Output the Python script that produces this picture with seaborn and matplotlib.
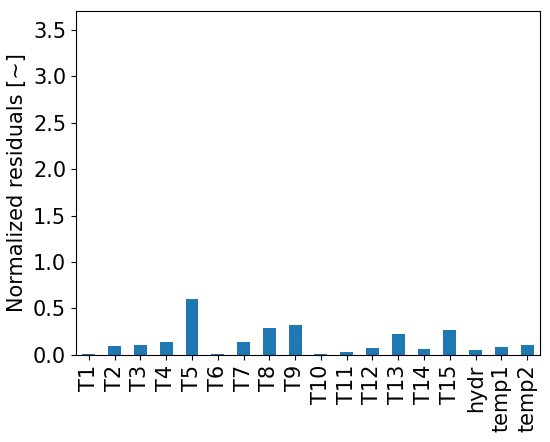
import matplotlib
matplotlib.use("Agg")
from matplotlib import pyplot as plt
import seaborn as sns
import pandas as pd

labels = ['T1', 'T2', 'T3', 'T4', 'T5', 'T6', 'T7', 'T8', 'T9', 'T10',
          'T11', 'T12', 'T13', 'T14', 'T15', 'hydr', 'temp1', 'temp2']
residuals = [0.005, 0.10, 0.107, 0.139, 0.60, 0.01, 0.14, 0.29, 0.32, 0.005,
             0.03, 0.075, 0.225, 0.06, 0.27, 0.055, 0.08, 0.107]

df = pd.DataFrame({'name': labels, 'res': residuals})

plt.rcParams['font.size'] = 15
fig, ax = plt.subplots(figsize=(5.5, 4.42), dpi=100)
sns.barplot(data=df, x='name', y='res', color='#1f77b4', saturation=1,
            width=0.5, ax=ax)
ax.set_xlim(-0.5, len(labels) - 0.5)
ax.set_ylim(0, 3.7)
ax.set_xlabel('')
ax.set_ylabel('Normalized residuals [~]')
ax.tick_params(axis='x', rotation=90)
fig.subplots_adjust(left=0.138, right=0.982, top=0.975, bottom=0.197)
fig.savefig('out.png')
